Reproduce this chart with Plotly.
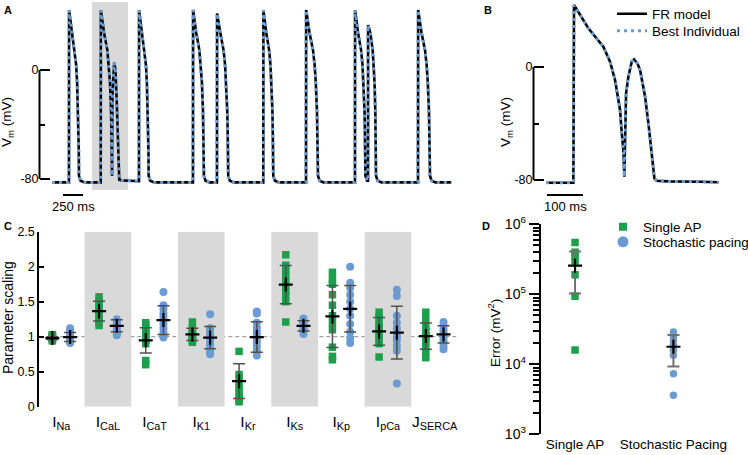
import plotly.graph_objects as go

W, H = 748, 455
FONT = "Liberation Sans, Arial, sans-serif"
GREEN = "#1e9f4c"
BLUE = "#6b9bd2"
BAND = "#d9d9d9"
ERR = "#505050"


def px(x):
    return x / W


def py(y):
    return 1 - y / H


# ---------------- data: panel B (FR model / best individual, one beat with EAD) -------------
B_T_MS = [0, 76, 77.8, 117.6, 159.3, 177.9, 191.8, 205.7, 210.4, 215, 217.7, 222.4, 228.9,
          238.2, 244.6, 253.9, 261.3, 275.2, 284.5, 293.8, 301.1, 307.6, 340, 428, 479]
B_V_MV = [-81.9, -81.9, 43.9, 27.4, 14.4, 3.8, -9.2, -30.4, -46.7, -58.8, -77.7, -18.6, -6.9,
          3.8, 5.4, 2.6, -2.1, -21, -39.9, -63.5, -78.8, -80.5, -81, -81.2, -81.6]
B_UPSTROKE_MS = 76

# ---------------- data: panel A (stochastic pacing train) ----------------
REST_MV = -82.5
AP_T_MS = [0, 1.8, 41.6, 83.3, 101.9, 115.8, 129.7, 135, 139, 141.7]
AP_V_MV = [REST_MV, 43.9, 27.4, 14.4, 3.8, -9.2, -30.4, -47, -58.8, -77.7]
A_ONSETS_MS = [212, 609, 1087, 1762, 2062, 2641, 3175, 3787, 3950, 4575]
A_PEAKS_MV = [44, 44, 44, 44, 41.5, 44, 44, 44, 33, 44]
A_APD_MS = [125, None, 121, 137, 141, 125, 150, 131, 100, 150]   # None = EAD beat (panel B shape)
A_START_MS, A_END_MS = 0, 4990
A_HIGHLIGHT_MS = [500, 950]

# ---------------- data: panel C ----------------
CURRENTS = ["I<sub>Na</sub>", "I<sub>CaL</sub>", "I<sub>CaT</sub>", "I<sub>K1</sub>",
            "I<sub>Kr</sub>", "I<sub>Ks</sub>", "I<sub>Kp</sub>", "I<sub>pCa</sub>",
            "J<sub>SERCA</sub>"]
C_SINGLE_AP = [
    [0.94, 0.96, 0.97, 0.98, 0.99, 1.0, 1.01, 1.02, 1.03],
    [1.16, 1.2, 1.25, 1.3, 1.35, 1.38, 1.42, 1.47, 1.52, 1.57],
    [0.6, 0.66, 0.9, 0.95, 1.0, 1.04, 1.08, 1.12, 1.17, 1.2],
    [0.92, 0.95, 0.98, 1.0, 1.02, 1.05, 1.08, 1.12, 1.21],
    [0.07, 0.1, 0.14, 0.2, 0.27, 0.33, 0.4, 0.46, 0.79],
    [1.21, 1.5, 1.59, 1.65, 1.72, 1.8, 1.88, 1.95, 2.02, 2.17],
    [0.67, 0.72, 0.85, 1.1, 1.2, 1.3, 1.45, 1.6, 1.75, 1.82, 1.92],
    [0.71, 0.9, 0.96, 1.0, 1.05, 1.1, 1.15, 1.2, 1.28, 1.35],
    [0.7, 0.78, 0.85, 0.92, 0.98, 1.02, 1.08, 1.15, 1.25, 1.35],
]
C_STOCH = [
    [0.91, 0.93, 0.95, 0.97, 0.98, 1.0, 1.02, 1.04, 1.08, 1.12],
    [1.02, 1.05, 1.08, 1.11, 1.14, 1.16, 1.19, 1.22, 1.25],
    [0.99, 1.02, 1.06, 1.12, 1.18, 1.23, 1.28, 1.33, 1.4, 1.45, 1.64],
    [0.75, 0.78, 0.83, 0.88, 0.94, 0.98, 1.02, 1.07, 1.12, 1.32],
    [0.73, 0.8, 0.86, 0.92, 0.97, 1.02, 1.07, 1.13, 1.2, 1.33, 1.36],
    [1.04, 1.08, 1.11, 1.14, 1.16, 1.18, 1.21, 1.24, 1.26],
    [0.91, 0.98, 1.07, 1.18, 1.3, 1.4, 1.5, 1.6, 1.7, 1.77, 2.0],
    [0.33, 0.8, 0.87, 0.95, 1.0, 1.05, 1.12, 1.2, 1.3, 1.58, 1.67],
    [0.82, 0.87, 0.92, 0.96, 1.0, 1.03, 1.07, 1.11, 1.16, 1.21],
]
C_SINGLE_MEAN = [0.98, 1.365, 0.948, 1.033, 0.365, 1.744, 1.289, 1.076, 1.009]
C_SINGLE_SD = [0.02, 0.14, 0.18, 0.086, 0.247, 0.273, 0.443, 0.197, 0.188]
C_STOCH_MEAN = [0.995, 1.156, 1.237, 0.986, 0.995, 1.156, 1.398, 1.057, 1.033]
C_STOCH_SD = [0.065, 0.085, 0.206, 0.158, 0.218, 0.073, 0.332, 0.377, 0.122]
C_TICKS = [0, 0.5, 1, 1.5, 2, 2.5]

# ---------------- data: panel D ----------------
D_GROUPS = ["Single AP", "Stochastic Pacing"]
D_SINGLE_AP = [5.5e5, 4.0e5, 3.5e5, 3.0e5, 1.9e5, 9.4e4, 1.6e4]
D_STOCH = [2.9e4, 2.5e4, 2.2e4, 1.9e4, 1.6e4, 1.35e4, 7.3e3, 3.6e3]
D_MEAN = [2.56e5, 1.78e4]
D_SD = [1.53e5, 8.5e3]
D_TICKS = [1e3, 1e4, 1e5, 1e6]
D_TICKTEXT = ["10<sup>3</sup>", "10<sup>4</sup>", "10<sup>5</sup>", "10<sup>6</sup>"]

# ---------------- build panel A trace from the beat list ----------------
a_t, a_v = [A_START_MS], [REST_MV]
for i, onset in enumerate(A_ONSETS_MS):
    nxt = A_ONSETS_MS[i + 1] if i + 1 < len(A_ONSETS_MS) else A_END_MS
    a_t.append(onset)
    a_v.append(a_v[-1])
    apd = A_APD_MS[i]
    if apd is None:
        seg = [(onset + t - B_UPSTROKE_MS, v) for t, v in zip(B_T_MS, B_V_MV) if t > B_UPSTROKE_MS]
    else:
        k = apd / AP_T_MS[-1]
        seg = [(onset + t * k, v) for t, v in zip(AP_T_MS[1:], AP_V_MV[1:])]
        seg[0] = (seg[0][0], A_PEAKS_MV[i])
        seg += [(onset + apd + 20, -81.3), (onset + apd + 70, REST_MV)]
    for t, v in seg:
        if t < nxt:
            a_t.append(t)
            a_v.append(v)
a_t.append(A_END_MS)
a_v.append(a_v[-1])

fig = go.Figure()

FR_LINE = dict(color="black", width=2.6)
BI_LINE = dict(color=BLUE, width=3, dash="3px,4px")

# Panel A
fig.add_trace(go.Scatter(x=a_t, y=a_v, mode="lines", line=FR_LINE,
                         xaxis="x", yaxis="y", showlegend=False, hoverinfo="skip"))
fig.add_trace(go.Scatter(x=a_t, y=a_v, mode="lines", line=BI_LINE,
                         xaxis="x", yaxis="y", showlegend=False, hoverinfo="skip"))
# Panel B
fig.add_trace(go.Scatter(x=B_T_MS, y=B_V_MV, mode="lines", name="FR model",
                         line=FR_LINE, xaxis="x2", yaxis="y2", legend="legend"))
fig.add_trace(go.Scatter(x=B_T_MS, y=B_V_MV, mode="lines", name="Best Individual",
                         line=BI_LINE, xaxis="x2", yaxis="y2", legend="legend2"))

# Panel C
OFF = 0.19
gx, gy, bx, by = [], [], [], []
for i, vals in enumerate(C_SINGLE_AP):
    gx += [i - OFF] * len(vals)
    gy += vals
for i, vals in enumerate(C_STOCH):
    bx += [i + OFF] * len(vals)
    by += vals
fig.add_trace(go.Scatter(x=gx, y=gy, mode="markers", xaxis="x3", yaxis="y3", showlegend=False,
                         marker=dict(symbol="square", size=7.5, color=GREEN), cliponaxis=False))
fig.add_trace(go.Scatter(x=bx, y=by, mode="markers", xaxis="x3", yaxis="y3", showlegend=False,
                         marker=dict(symbol="circle", size=8, color=BLUE), cliponaxis=False))
for means, sds, off in [(C_SINGLE_MEAN, C_SINGLE_SD, -OFF), (C_STOCH_MEAN, C_STOCH_SD, OFF)]:
    fig.add_trace(go.Scatter(
        x=[i + off for i in range(len(means))], y=means, mode="markers",
        xaxis="x3", yaxis="y3", showlegend=False, cliponaxis=False,
        marker=dict(symbol="cross-thin", size=10, line=dict(color="black", width=2.2)),
        error_y=dict(type="data", array=sds, visible=True, color=ERR, thickness=1.5, width=6)))

# Panel D
fig.add_trace(go.Scatter(x=[0] * len(D_SINGLE_AP), y=D_SINGLE_AP, mode="markers", xaxis="x4",
                         yaxis="y4", showlegend=False, cliponaxis=False,
                         marker=dict(symbol="square", size=7.5, color=GREEN)))
fig.add_trace(go.Scatter(x=[1] * len(D_STOCH), y=D_STOCH, mode="markers", xaxis="x4",
                         yaxis="y4", showlegend=False, cliponaxis=False,
                         marker=dict(symbol="circle", size=7.5, color=BLUE)))
fig.add_trace(go.Scatter(
    x=[0, 1], y=D_MEAN, mode="markers", xaxis="x4", yaxis="y4", showlegend=False,
    marker=dict(symbol="cross-thin", size=10, line=dict(color="black", width=2.2)),
    error_y=dict(type="data", array=D_SD, visible=True, color="#707070", thickness=2, width=6)))
# legend entries for panels C/D
fig.add_trace(go.Scatter(x=[None], y=[None], mode="markers", name="Single AP", xaxis="x4",
                         yaxis="y4", marker=dict(symbol="square", size=8, color=GREEN),
                         legend="legend3"))
fig.add_trace(go.Scatter(x=[None], y=[None], mode="markers", name="Stochastic pacing",
                         xaxis="x4", yaxis="y4", marker=dict(symbol="circle", size=11, color=BLUE),
                         legend="legend4"))

# ---------------- geometry ----------------
# Panel A: 12.5 ms/px, 0 mV at y=70px, -80 mV at y=179px
A_L, A_R, A_T, A_B = 39.5, 460, 2, 200
a_mspp = 12.5
a_x0 = -(52 - A_L) * a_mspp
a_x1 = (A_R - 52) * a_mspp
a_mvpp = 80 / (179 - 70)
a_y1 = (70 - A_T) * a_mvpp
a_y0 = -(A_B - 70) * a_mvpp
# Panel B: 2.78 ms/px, 0 mV at y=67px, -80 mV at y=180px
B_L, B_R = 533.5, 725
b_mspp = 100 / 36
b_x0 = -(546 - B_L) * b_mspp
b_x1 = (B_R - 546) * b_mspp
b_mvpp = 80 / (180 - 67)
b_y1 = (67 - A_T) * b_mvpp
b_y0 = -(A_B - 67) * b_mvpp
# Panel C
C_L, C_R, C_T, C_B = 39.3, 458, 231.7, 406.7
# Panel D
D_L, D_R, D_T, D_B = 540.7, 730, 224.3, 434.3

tickfont = dict(family=FONT, size=12.5, color="black")
common_hidden = dict(visible=False, showgrid=False, zeroline=False)

layout = dict(
    width=W, height=H, margin=dict(l=0, r=0, t=0, b=0, autoexpand=False),
    paper_bgcolor="white", plot_bgcolor="rgba(0,0,0,0)",
    font=dict(family=FONT, size=12, color="black"),
    xaxis=dict(domain=[px(A_L), px(A_R)], range=[a_x0, a_x1], anchor="y", **common_hidden),
    yaxis=dict(domain=[py(A_B), py(A_T)], range=[a_y0, a_y1], anchor="x", showgrid=False,
               zeroline=False, showline=False, tickmode="array", tickvals=[0, -80],
               ticktext=["0", "-80"], ticks="inside", ticklen=10, tickwidth=2,
               tickcolor="black", tickfont=tickfont,
               minor=dict(tickmode="array", tickvals=[-40], ticks="inside", ticklen=5,
                          tickwidth=2, tickcolor="black", showgrid=False)),
    xaxis2=dict(domain=[px(B_L), px(B_R)], range=[b_x0, b_x1], anchor="y2", **common_hidden),
    yaxis2=dict(domain=[py(A_B), py(A_T)], range=[b_y0, b_y1], anchor="x2", showgrid=False,
                zeroline=False, showline=False, tickmode="array", tickvals=[0, -80],
                ticktext=["0", "-80"], ticks="inside", ticklen=10, tickwidth=2,
                tickcolor="black", tickfont=tickfont,
                minor=dict(tickmode="array", tickvals=[-40], ticks="inside", ticklen=5,
                           tickwidth=2, tickcolor="black", showgrid=False)),
    xaxis3=dict(domain=[px(C_L), px(C_R)], range=[-0.47, 8.5], anchor="y3", showgrid=False,
                zeroline=False, showline=False, tickmode="array",
                tickvals=list(range(len(CURRENTS))), ticktext=CURRENTS, ticks="",
                ticklabelstandoff=4,
                tickfont=dict(family=FONT, size=15.5, color="black")),
    yaxis3=dict(domain=[py(C_B), py(C_T)], range=[0, 2.5], anchor="x3", showgrid=False,
                zeroline=False, showline=True, linewidth=2, linecolor="black",
                tickmode="array", tickvals=C_TICKS, ticktext=[str(v) for v in C_TICKS],
                ticks="inside", ticklen=5, tickwidth=2, tickcolor="black", tickfont=tickfont),
    yaxis5=dict(overlaying="y3", anchor="x3", side="left", range=[0, 2.5], showgrid=False,
                zeroline=False, showline=False, tickmode="array", tickvals=[C_TICKS[0], C_TICKS[-1]],
                ticks="inside", ticklen=10, tickwidth=2, tickcolor="black", showticklabels=False),
    xaxis4=dict(domain=[px(D_L), px(D_R)], range=[-0.349, 1.575], anchor="y4", showgrid=False,
                zeroline=False, showline=False, tickmode="array", tickvals=[0, 1],
                ticktext=D_GROUPS, ticks="",
                tickfont=dict(family=FONT, size=13.5, color="black")),
    yaxis4=dict(domain=[py(D_B), py(D_T)], type="log", range=[3, 6], anchor="x4",
                showgrid=False, zeroline=False, showline=True, linewidth=2, linecolor="black",
                tickmode="array", tickvals=D_TICKS, ticktext=D_TICKTEXT, ticks="outside",
                ticklen=10, tickwidth=2, tickcolor="black",
                tickfont=dict(family=FONT, size=14, color="black"),
                minor=dict(tickmode="array",
                           tickvals=[m * d for d in D_TICKS[:-1] for m in range(2, 10)],
                           ticks="outside", ticklen=6, tickwidth=1.5, tickcolor="black",
                           showgrid=False)),
)

legfont = dict(family=FONT, size=13.5, color="black")
leg_common = dict(xanchor="left", yanchor="middle", bgcolor="rgba(0,0,0,0)", borderwidth=0,
                  font=legfont, itemclick=False, itemdoubleclick=False)
layout["legend"] = dict(x=px(612), y=py(14), **leg_common)
layout["legend2"] = dict(x=px(612), y=py(31), **leg_common)
layout["legend3"] = dict(x=px(603), y=py(227), **leg_common)
layout["legend4"] = dict(x=px(603), y=py(242), **leg_common)

shapes = []
# Panel A highlight and axis/scale bars
shapes.append(dict(type="rect", xref="x", yref="y", x0=A_HIGHLIGHT_MS[0], x1=A_HIGHLIGHT_MS[1],
                   y0=-(190 - 70) * a_mvpp, y1=a_y1, fillcolor=BAND, line=dict(width=0),
                   layer="below"))
shapes.append(dict(type="line", xref="x domain", yref="y", x0=0, x1=0, y0=-80, y1=0,
                   line=dict(color="black", width=2)))
a_bar_y = -(195 - 70) * a_mvpp
a_bar_x0 = (63 - 52) * a_mspp
shapes.append(dict(type="line", xref="x", yref="y", x0=a_bar_x0, x1=a_bar_x0 + 250,
                   y0=a_bar_y, y1=a_bar_y, line=dict(color="black", width=2)))
# Panel B
shapes.append(dict(type="line", xref="x2 domain", yref="y2", x0=0, x1=0, y0=-80, y1=0,
                   line=dict(color="black", width=2)))
b_bar_y = -(195 - 67) * b_mvpp
b_bar_x0 = (547 - 546) * b_mspp
shapes.append(dict(type="line", xref="x2", yref="y2", x0=b_bar_x0, x1=b_bar_x0 + 100,
                   y0=b_bar_y, y1=b_bar_y, line=dict(color="black", width=2)))
# Panel C bands and reference line
for i in range(1, len(CURRENTS), 2):
    shapes.append(dict(type="rect", xref="x3", yref="y3", x0=i - 0.5, x1=i + 0.5, y0=0, y1=2.5,
                       fillcolor=BAND, line=dict(width=0), layer="below"))
shapes.append(dict(type="line", xref="x3 domain", yref="y3", x0=0, x1=1, y0=1, y1=1,
                   line=dict(color="#8a8a8a", width=1, dash="4px,3px"), layer="below"))
layout["shapes"] = shapes

ann = []
for txt, x, y in [("A", 2, 2), ("B", 482, 2), ("C", 2, 218), ("D", 480, 218)]:
    ann.append(dict(text="<b>%s</b>" % txt, x=px(x), y=py(y), xref="paper", yref="paper",
                    xanchor="left", yanchor="top", showarrow=False,
                    font=dict(family=FONT, size=11, color="black")))
for txt, x, y, s in [("V<sub>m</sub> (mV)", 8, 122, 13.5), ("V<sub>m</sub> (mV)", 507, 122, 13.5),
                     ("Parameter scaling", 8, 318, 14), ("Error (mV<sup>2</sup>)", 494, 333, 13.5)]:
    ann.append(dict(text=txt, x=px(x), y=py(y), xref="paper", yref="paper", textangle=-90,
                    xanchor="center", yanchor="middle", showarrow=False,
                    font=dict(family=FONT, size=s, color="black")))
ann.append(dict(text="250 ms", x=a_bar_x0 + 125, y=a_bar_y, xref="x", yref="y",
                xanchor="center", yanchor="top", yshift=-2, showarrow=False,
                font=dict(family=FONT, size=13, color="black")))
ann.append(dict(text="100 ms", x=b_bar_x0 + 50, y=b_bar_y, xref="x2", yref="y2",
                xanchor="center", yanchor="top", yshift=-2, showarrow=False,
                font=dict(family=FONT, size=13, color="black")))
layout["annotations"] = ann

fig.update_layout(**layout)
fig.write_html("out.html", config={"displayModeBar": False},
               post_script="document.body.style.margin='0';document.body.style.padding='0';"
                           "document.documentElement.style.overflow='hidden';")
